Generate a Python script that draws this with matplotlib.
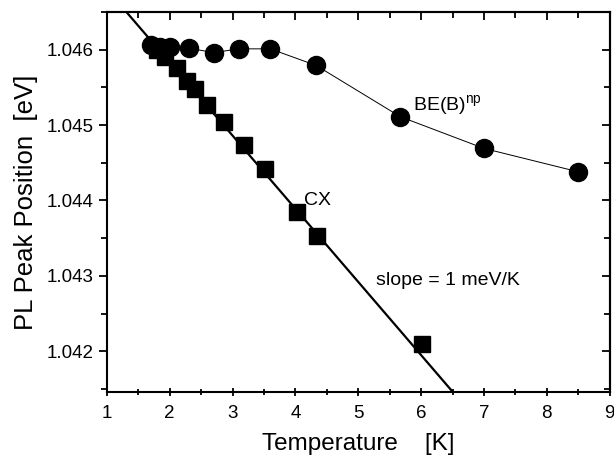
import matplotlib
matplotlib.use("Agg")
import matplotlib.pyplot as plt
import numpy as np

plt.rcParams['font.family'] = ['Liberation Sans', 'DejaVu Sans']

# BE(B)^np peak (circles)
be_temp = [1.70, 1.85, 2.00, 2.30, 2.70, 3.10, 3.60, 4.33, 5.67, 7.00, 8.50]
be_energy = [1.04606, 1.04604, 1.04604, 1.04602, 1.04596, 1.04601, 1.04601,
             1.04579, 1.04511, 1.04469, 1.04438]

# CX peak (squares)
cx_temp = [1.80, 1.92, 2.11, 2.27, 2.41, 2.59, 2.86, 3.18, 3.51, 4.02, 4.34, 6.02]
cx_energy = [1.04600, 1.04590, 1.04576, 1.04559, 1.04548, 1.04527, 1.04504,
             1.04474, 1.04442, 1.04385, 1.04353, 1.04210]

# linear fit line, slope ~ 1 meV/K
fit_range = [1.32, 6.5]
fit_slope = -0.00097
fit_T0, fit_E0 = 1.32, 1.04649

x_major = list(range(1, 10))
x_minor = [1.5, 2.5, 3.5, 4.5, 5.5, 6.5, 7.5, 8.5]
y_major = [1.042, 1.043, 1.044, 1.045, 1.046]
y_minor = [1.0415, 1.0425, 1.0435, 1.0445, 1.0455, 1.0465]
y_labels = ["1.042", "1.043", "1.044", "1.045", "1.046"]


def main():
    fig = plt.figure(figsize=(6.14, 4.57), dpi=100)
    ax = fig.add_axes([0.174, 0.142, 0.819, 0.832])

    t = np.array(fit_range)
    ax.plot(t, fit_E0 + fit_slope * (t - fit_T0), color='black', lw=1.6, zorder=2)
    ax.plot(be_temp, be_energy, color='black', lw=0.7, zorder=2)
    ax.plot(be_temp, be_energy, 'o', color='black', ms=13, zorder=3)
    ax.plot(cx_temp, cx_energy, 's', color='black', ms=12, zorder=4)

    ax.text(4.13, 1.04400, "CX", fontsize=14, va='center')
    ax.text(5.28, 1.04294, "slope = 1 meV/K", fontsize=14, va='center')
    ax.text(5.87, 1.04526, r"BE(B)$^{\mathregular{np}}$", fontsize=14, va='center')

    ax.set_xlim(1, 9)
    ax.set_ylim(1.04146, 1.04649)
    ax.set_xticks(x_major)
    ax.set_xticks(x_minor, minor=True)
    ax.set_yticks(y_major)
    ax.set_yticks(y_minor, minor=True)
    ax.set_yticklabels(y_labels)

    ax.tick_params(axis='both', which='both', labelsize=13.5, width=1.3)
    ax.tick_params(axis='both', which='major', length=6)
    ax.tick_params(axis='both', which='minor', length=4)
    ax.tick_params(axis='x', which='both', direction='inout', pad=6)
    ax.tick_params(axis='y', which='both', direction='out')

    # inward ticks on top and right
    top = ax.secondary_xaxis('top')
    top.set_xticks(x_major)
    top.set_xticks(x_minor, minor=True)
    top.tick_params(which='both', direction='in', width=1.3, labeltop=False)
    top.tick_params(which='major', length=6)
    top.tick_params(which='minor', length=4)
    right = ax.secondary_yaxis('right')
    right.set_yticks(y_major)
    right.set_yticks(y_minor, minor=True)
    right.tick_params(which='both', direction='in', width=1.3, labelright=False)
    right.tick_params(which='major', length=6)
    right.tick_params(which='minor', length=4)

    for s in ax.spines.values():
        s.set_linewidth(1.5)
    top.spines['top'].set_linewidth(1.5)
    right.spines['right'].set_linewidth(1.5)

    ax.set_xlabel("Temperature    [K]", fontsize=17.5, labelpad=8)
    ax.set_ylabel("PL Peak Position  [eV]", fontsize=18.5, labelpad=6)

    fig.savefig("out.png", dpi=100)


if __name__ == "__main__":
    main()
